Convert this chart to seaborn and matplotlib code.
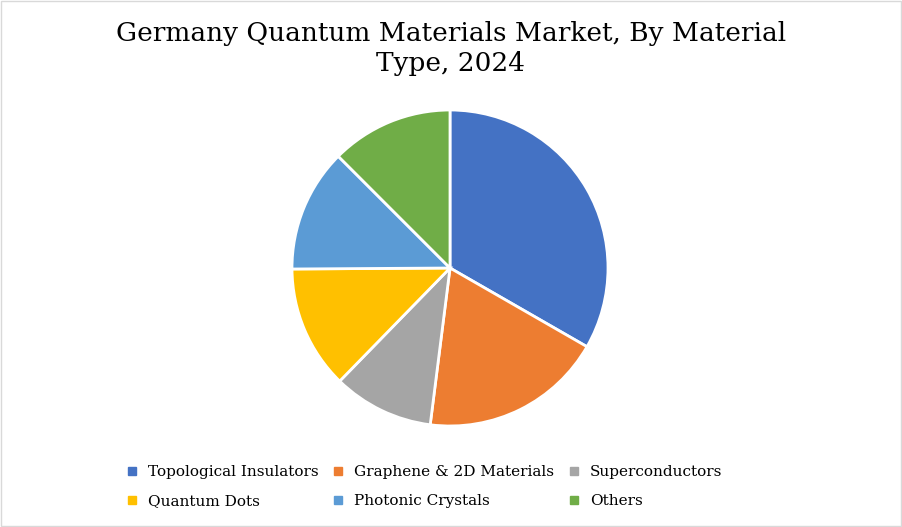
import seaborn as sns
import matplotlib.pyplot as plt
from matplotlib.patches import Rectangle
from matplotlib.lines import Line2D

categories = ['Topological Insulators', 'Graphene & 2D Materials', 'Superconductors',
              'Quantum Dots', 'Photonic Crystals', 'Others']
shares = [33.3, 18.7, 10.3, 12.6, 12.6, 12.5]
colors = ['#4472C4', '#ED7D31', '#A5A5A5', '#FFC000', '#5B9BD5', '#70AD47']

sns.set_style('white')
plt.rcParams['font.family'] = 'DejaVu Serif'
fig = plt.figure(figsize=(9.02, 5.27), dpi=100)
fig.patches.append(Rectangle((0.001, 0.001), 0.998, 0.997, transform=fig.transFigure,
                             fill=False, edgecolor='#D9D9D9', lw=1))

r = 158
ax = fig.add_axes([(450 - r) / 902, (527 - 268 - r) / 527, 2 * r / 902, 2 * r / 527])
ax.pie(shares, colors=colors, startangle=90, counterclock=False,
       wedgeprops=dict(edgecolor='white', linewidth=2))
ax.set_xlim(-1, 1)
ax.set_ylim(-1, 1)
ax.set_aspect('auto')
ax.axis('off')

fig.text(0.5, 0.96, 'Germany Quantum Materials Market, By Material\nType, 2024',
         ha='center', va='top', fontsize=19, linespacing=1.25, color='black')

# legend fills column-wise; reorder so rows read like the reference
order = [0, 3, 1, 4, 2, 5]
handles = [Line2D([], [], marker='s', ls='', color=colors[i], markersize=6) for i in order]
labels = [categories[i] for i in order]
fig.legend(handles, labels, loc='lower center', bbox_to_anchor=(0.465, 0.01), ncol=3,
           frameon=False, fontsize=11, handletextpad=0.05, columnspacing=0.3,
           labelspacing=0.95, labelcolor='black')

fig.savefig('out.png', dpi=100)
